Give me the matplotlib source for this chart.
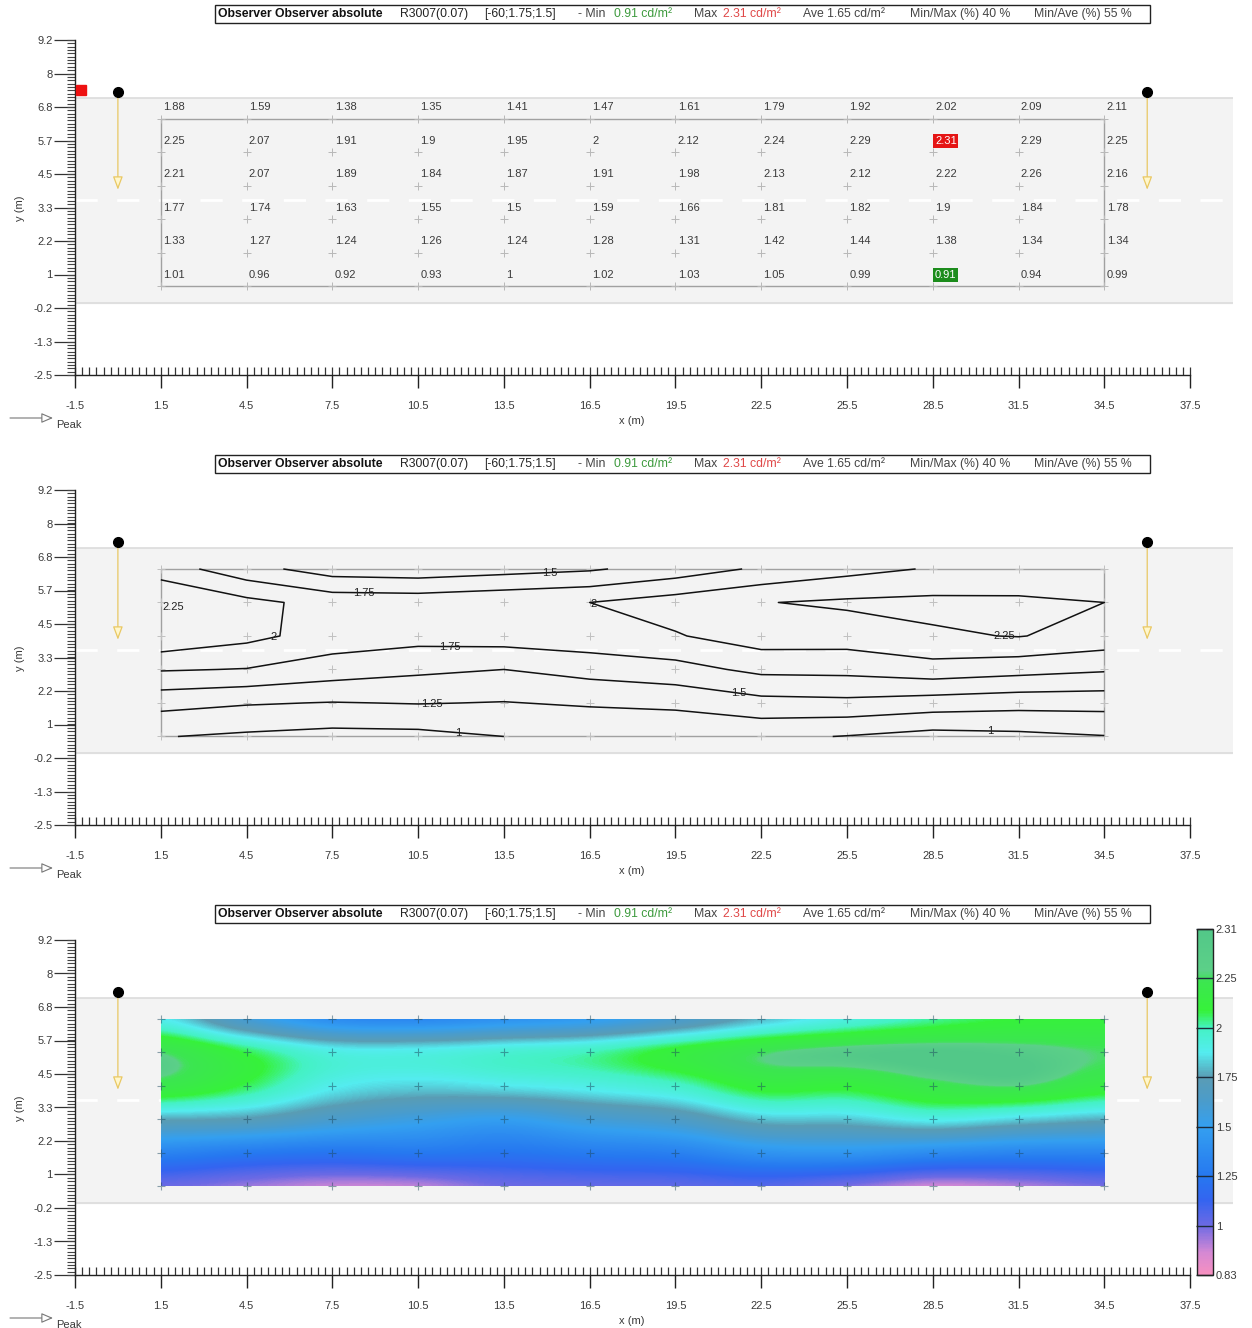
import numpy as np
import matplotlib
matplotlib.use('Agg')
import matplotlib.pyplot as plt
from matplotlib.colors import LinearSegmentedColormap, FuncNorm
from matplotlib.patches import Rectangle
from matplotlib.ticker import FixedLocator

plt.rcParams['font.family'] = ['Liberation Sans', 'DejaVu Sans']
plt.rcParams['axes.unicode_minus'] = False

W, H = 1252, 1328

# ---------------- data ----------------
grid_x = [1.5, 4.5, 7.5, 10.5, 13.5, 16.5, 19.5, 22.5, 25.5, 28.5, 31.5, 34.5]
grid_y = [0.583, 1.75, 2.917, 4.083, 5.25, 6.417]

row_1 = [1.01, 0.96, 0.92, 0.93, 1.00, 1.02, 1.03, 1.05, 0.99, 0.91, 0.94, 0.99]
row_2 = [1.33, 1.27, 1.24, 1.26, 1.24, 1.28, 1.31, 1.42, 1.44, 1.38, 1.34, 1.34]
row_3 = [1.77, 1.74, 1.63, 1.55, 1.50, 1.59, 1.66, 1.81, 1.82, 1.90, 1.84, 1.78]
row_4 = [2.21, 2.07, 1.89, 1.84, 1.87, 1.91, 1.98, 2.13, 2.12, 2.22, 2.26, 2.16]
row_5 = [2.25, 2.07, 1.91, 1.90, 1.95, 2.00, 2.12, 2.24, 2.29, 2.31, 2.29, 2.25]
row_6 = [1.88, 1.59, 1.38, 1.35, 1.41, 1.47, 1.61, 1.79, 1.92, 2.02, 2.09, 2.11]

contour_levels = [1.0, 1.25, 1.5, 1.75, 2.0, 2.25]
contour_label_pos = [(8.6, 5.4), (15.1, 6.1), (16.6, 5.1), (5.5, 3.7),
                     (11.6, 3.6), (31.0, 4.05), (21.7, 2.0), (11.0, 1.55),
                     (11.9, 0.6), (30.5, 0.6)]
edge_label = ('2.25', 1.55, 5.1)

cbar_ticks = [0.83, 1.0, 1.25, 1.5, 1.75, 2.0, 2.25, 2.31]
cbar_labels = ['0.83', '1', '1.25', '1.5', '1.75', '2', '2.25', '2.31']

lum_x = [0.0, 36.0]
lum_y = 7.36
aim_y = 3.95
marker_red = (-1.3, 7.44)
road_top = 7.15
road_center = 3.58

ytick_vals = [-2.5 + k * 7 / 6 for k in range(11)]
ytick_labels = ['-2.5', '-1.3', '-0.2', '1', '2.2', '3.3', '4.5', '5.7', '6.8', '8', '9.2']
xtick_vals = [-1.5 + 3 * k for k in range(14)]
xtick_labels = ['%g' % v for v in xtick_vals]

header_parts = [
    (218, 'Observer Observer absolute', 'bold', '#111111'),
    (400, 'R3007(0.07)', 'normal', '#222222'),
    (484, '[-60;1.75;1.5]', 'normal', '#222222'),
    (578, '- Min', 'normal', '#444444'),
    (614, '0.91 cd/m²', 'normal', '#3d9a3d'),
    (694, 'Max', 'normal', '#444444'),
    (723, '2.31 cd/m²', 'normal', '#e04848'),
    (803, 'Ave 1.65 cd/m²', 'normal', '#444444'),
    (910, 'Min/Max (%) 40 %', 'normal', '#444444'),
    (1034, 'Min/Ave (%) 55 %', 'normal', '#444444'),
]

Z = np.array([row_1, row_2, row_3, row_4, row_5, row_6])
GX, GY = np.meshgrid(grid_x, grid_y)

cmap_pos = [0, 0.45 / 7, 1 / 7, 1.5 / 7, 2 / 7, 3 / 7, 3.5 / 7, 4 / 7, 4.5 / 7, 5 / 7,
            5.35 / 7, 5.95 / 7, 6.17 / 7, 1]
cmap_cols = ['#f790c0', '#d488d4', '#6c6ae4', '#3464f0', '#2678f0', '#34a0f0', '#4a9ccc',
             '#5a9cb4', '#54ecf0', '#44f2c4', '#36f23a', '#3ce650', '#5cd088', '#52c888']
cmap = LinearSegmentedColormap.from_list('lum', list(zip(cmap_pos, cmap_cols)))


def fwd(x):
    return np.interp(np.asarray(x, dtype=float), cbar_ticks, np.arange(len(cbar_ticks)))


def inv(y):
    return np.interp(np.asarray(y, dtype=float), np.arange(len(cbar_ticks)), cbar_ticks)


norm = FuncNorm((fwd, inv), vmin=cbar_ticks[0], vmax=cbar_ticks[-1])

fig = plt.figure(figsize=(W / 100, H / 100), dpi=100)
tick_col = '#3a3a3a'


def setup_axes(dy):
    ax = fig.add_axes([75 / W, 1 - (375 + dy) / H, 1158 / W, 335 / H])
    ax.set_xlim(-1.5, 39)
    ax.set_ylim(-2.5, 7 / 6 * 10 - 2.5)
    ax.patch.set_alpha(0)
    for s in ['top', 'right']:
        ax.spines[s].set_visible(False)
    ax.spines['bottom'].set_bounds(-1.5, 37.5)
    for s in ['left', 'bottom']:
        ax.spines[s].set_color('#222222')
        ax.spines[s].set_linewidth(1.0)
    ax.xaxis.remove_overlapping_locs = False
    ax.yaxis.remove_overlapping_locs = False
    ax.xaxis.set_major_locator(FixedLocator(xtick_vals))
    ax.set_xticklabels(xtick_labels)
    ax.xaxis.set_minor_locator(FixedLocator(np.arange(-1.5, 37.51, 0.25)))
    ax.yaxis.set_major_locator(FixedLocator(ytick_vals))
    ax.set_yticklabels(ytick_labels)
    ax.yaxis.set_minor_locator(FixedLocator(np.arange(-2.5, 9.2, 7 / 60)))
    ax.tick_params(axis='x', which='major', direction='out', length=9.5, width=1.0,
                   color='#222222', labelsize=8, labelcolor=tick_col, pad=9)
    ax.tick_params(axis='x', which='minor', direction='in', length=5.5, width=0.9,
                   color='#333333')
    ax.tick_params(axis='y', which='major', direction='out', length=15, width=0.9,
                   color='#333333', labelsize=8, labelcolor=tick_col, pad=1)
    ax.tick_params(axis='y', which='minor', direction='out', length=5.5, width=0.8,
                   color='#444444')
    # road band
    ax.axhspan(0, road_top, xmin=0, xmax=1, color='#f3f3f3', zorder=0)
    ax.axhline(0, color='#dcdcdc', lw=1.2, zorder=0.5)
    ax.axhline(road_top, color='#dcdcdc', lw=1.2, zorder=0.5)
    ax.axhline(road_center, color='white', lw=2, dashes=(8, 7), zorder=0.6)
    # luminaires
    for lx in lum_x:
        ax.annotate('', xy=(lx, aim_y), xytext=(lx, lum_y),
                    arrowprops=dict(arrowstyle='-|>,head_length=0.8,head_width=0.3',
                                    ec='#e9c864', fc='#fff7cc', lw=0.9,
                                    shrinkA=0, shrinkB=0), zorder=5)
    ax.plot(lum_x, [lum_y] * len(lum_x), 'o', color='black', ms=7, zorder=6,
            clip_on=False)
    # labels
    fig.text(632 / W, 1 - (421 + dy) / H, 'x (m)', fontsize=8, color=tick_col,
             ha='center', va='center')
    fig.text(20 / W, 1 - (208 + dy) / H, 'y (m)', fontsize=8, color=tick_col,
             ha='center', va='center', rotation=90)
    ax.annotate('', xy=(53, H - (418 + dy)), xytext=(10, H - (418 + dy)),
                xycoords='figure pixels', textcoords='figure pixels',
                arrowprops=dict(arrowstyle='-|>,head_length=0.7,head_width=0.3',
                                ec='#777777', fc='white', lw=0.8,
                                shrinkA=0, shrinkB=0))
    fig.text(56 / W, 1 - (425 + dy) / H, 'Peak', fontsize=8, color=tick_col,
             ha='left', va='center')
    # header
    fig.add_artist(Rectangle((215 / W, 1 - (23 + dy) / H), 935 / W, 18 / H,
                             transform=fig.transFigure, fc='white', ec='#222222',
                             lw=1.0))
    for px, s, wgt, col in header_parts:
        fig.text(px / W, 1 - (14 + dy) / H, s, fontsize=8.8, fontweight=wgt, color=col,
                 ha='left', va='center')
    return ax


def frame(ax, ec='#a0a0a0'):
    ax.add_patch(Rectangle((grid_x[0], grid_y[0]), grid_x[-1] - grid_x[0],
                           grid_y[-1] - grid_y[0], fc='none', ec=ec, lw=1.0, zorder=2))


# ---------- panel 1: values ----------
ax1 = setup_axes(0)
frame(ax1)
ax1.plot(GX.ravel(), GY.ravel(), '+', color='#b8b8b8', ms=6, mew=0.7, zorder=2)
imax = np.unravel_index(np.argmax(Z), Z.shape)
imin = np.unravel_index(np.argmin(Z), Z.shape)
for j, yv in enumerate(grid_y):
    for i, xv in enumerate(grid_x):
        v = Z[j, i]
        kw = dict(fontsize=8, color='#3a3a3a', ha='left', va='center', zorder=4)
        if (j, i) == imax:
            kw.update(color='white', bbox=dict(fc='#e51515', ec='none', pad=1.2))
        elif (j, i) == imin:
            kw.update(color='white', bbox=dict(fc='#1c8c1c', ec='none', pad=1.2))
        ax1.text(xv + 0.08, yv + 0.4, '%g' % v, **kw)
ax1.plot([marker_red[0]], [marker_red[1]], 's', color='#ee1111', ms=7, zorder=6,
         clip_on=False)

# ---------- panel 2: contours ----------
ax2 = setup_axes(450)
frame(ax2)
ax2.plot(GX.ravel(), GY.ravel(), '+', color='#c0c0c0', ms=6, mew=0.7, zorder=2)
cs = ax2.contour(GX, GY, Z, levels=contour_levels, colors='#111111', linewidths=1.1,
                 zorder=3)
ax2.clabel(cs, fmt=lambda v: '%g' % v, fontsize=8, inline=False,
           manual=contour_label_pos, colors='#222222')
for t in cs.labelTexts:
    t.set_rotation(0)
ax2.text(edge_label[1], edge_label[2], edge_label[0], fontsize=8, color='#222222',
         ha='left', va='center', zorder=4)

# ---------- panel 3: false colours ----------
ax3 = setup_axes(900)
dxh = (grid_x[1] - grid_x[0]) / 2
dyh = (grid_y[1] - grid_y[0]) / 2
im = ax3.imshow(Z, origin='lower', cmap=cmap, norm=norm, interpolation='catrom',
                extent=(grid_x[0] - dxh, grid_x[-1] + dxh, grid_y[0] - dyh, grid_y[-1] + dyh),
                aspect='auto', zorder=2)
clip = Rectangle((grid_x[0], grid_y[0]), grid_x[-1] - grid_x[0], grid_y[-1] - grid_y[0],
                 transform=ax3.transData)
im.set_clip_path(clip)
ax3.set_xlim(-1.5, 39)
ax3.set_ylim(-2.5, 7 / 6 * 10 - 2.5)
ax3.plot(GX.ravel(), GY.ravel(), '+', color='#1e4a60', alpha=0.5, ms=6, mew=0.8,
         zorder=3)

cax = fig.add_axes([1197 / W, 1 - 1275 / H, 16 / W, 346 / H])
cb = fig.colorbar(im, cax=cax)
cb.set_ticks(cbar_ticks)
cb.set_ticklabels(cbar_labels)
cb.ax.tick_params(direction='in', length=12, width=1.0, color='#1c2c3c', labelsize=8,
                  labelcolor=tick_col, pad=2)
cb.ax.minorticks_off()
cb.outline.set_edgecolor('#222222')
cb.outline.set_linewidth(1.0)

fig.savefig('out.png', dpi=100)
